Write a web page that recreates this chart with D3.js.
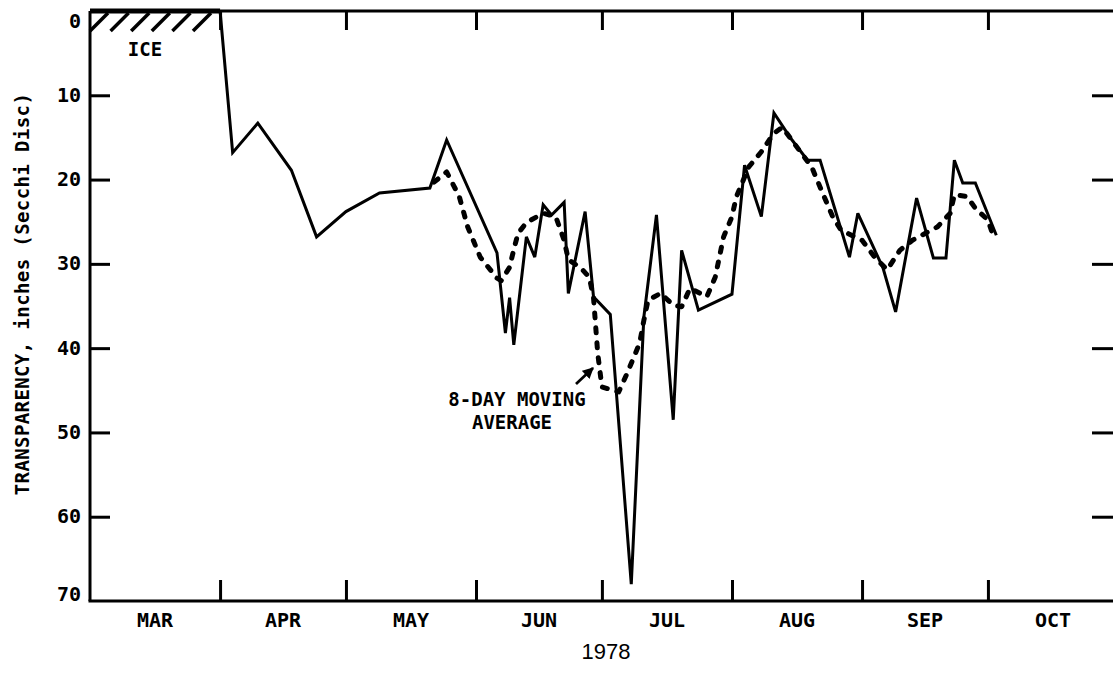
<!DOCTYPE html>
<html>
<head>
<meta charset="utf-8">
<script src="https://cdn.jsdelivr.net/npm/d3@7"></script>
<style>
  body { margin: 0; background: #fff; }
  svg text { fill: #000; }
</style>
</head>
<body>
<svg id="chart" width="1113" height="676"></svg>
<script>
// Lake transparency (Secchi disc depth, inches), 1978 season
const monthLabels = ["MAR", "APR", "MAY", "JUN", "JUL", "AUG", "SEP", "OCT"];
const yTickValues = [0, 10, 20, 30, 40, 50, 60, 70];
const yMarkValues = [10, 20, 30, 40, 50, 60];

const iceStart = "1978-03-01";
const iceEnd = "1978-04-01";

// Individual Secchi readings
const obsDates = [
  "1978-04-01", "1978-04-04", "1978-04-10", "1978-04-18", "1978-04-24",
  "1978-05-01", "1978-05-09", "1978-05-21", "1978-05-25", "1978-06-06",
  "1978-06-08", "1978-06-09", "1978-06-10", "1978-06-13", "1978-06-15",
  "1978-06-17", "1978-06-19", "1978-06-22", "1978-06-23", "1978-06-27",
  "1978-06-29", "1978-07-03", "1978-07-08", "1978-07-11", "1978-07-14",
  "1978-07-18", "1978-07-20", "1978-07-24", "1978-08-01", "1978-08-04",
  "1978-08-08", "1978-08-11", "1978-08-15", "1978-08-19", "1978-08-22",
  "1978-08-29", "1978-08-31", "1978-09-06", "1978-09-09", "1978-09-14",
  "1978-09-18", "1978-09-21", "1978-09-23", "1978-09-25", "1978-09-28",
  "1978-10-03"
];
const obsValues = [
  0, 16.8, 13.3, 18.9, 26.8,
  23.8, 21.6, 21.0, 15.3, 28.7,
  38.2, 34.0, 39.6, 26.8, 29.2,
  23.0, 24.2, 22.7, 33.5, 23.8,
  33.9, 36.0, 68.0, 36.3, 24.2,
  48.5, 28.4, 35.5, 33.6, 18.3,
  24.4, 12.1, 15.1, 17.7, 17.7,
  29.2, 24.0, 30.5, 35.7, 22.2,
  29.3, 29.3, 17.7, 20.4, 20.4,
  26.6
];

// 8-day moving average
const avgDates = [
  "1978-05-22", "1978-05-25", "1978-05-28", "1978-05-30", "1978-06-02",
  "1978-06-06", "1978-06-07", "1978-06-09", "1978-06-10", "1978-06-11",
  "1978-06-13", "1978-06-17", "1978-06-20", "1978-06-22", "1978-06-23",
  "1978-06-26", "1978-06-28", "1978-06-29", "1978-06-30", "1978-07-01",
  "1978-07-05", "1978-07-07", "1978-07-10", "1978-07-11", "1978-07-12",
  "1978-07-15", "1978-07-18", "1978-07-20", "1978-07-22", "1978-07-26",
  "1978-07-28", "1978-07-30", "1978-08-01", "1978-08-02", "1978-08-05",
  "1978-08-08", "1978-08-11", "1978-08-13", "1978-08-17", "1978-08-20",
  "1978-08-22", "1978-08-25", "1978-08-27", "1978-09-01", "1978-09-04",
  "1978-09-07", "1978-09-10", "1978-09-13", "1978-09-19", "1978-09-22",
  "1978-09-23", "1978-09-26", "1978-09-28", "1978-10-01", "1978-10-02"
];
const avgValues = [
  20.3, 19.1, 22.0, 25.6, 29.2,
  31.7, 32.0, 30.4, 28.3, 26.4,
  25.1, 24.0, 24.4, 27.2, 29.5,
  30.5, 31.6, 34.0, 40.6, 44.6,
  45.2, 43.0, 39.4, 36.7, 34.3,
  33.5, 34.9, 35.1, 32.9, 33.9,
  31.6, 26.8, 24.4, 22.1, 18.5,
  16.7, 14.5, 13.8, 16.5, 18.5,
  20.9, 24.4, 26.0, 27.2, 29.2,
  30.7, 28.4, 27.2, 25.6, 24.0,
  21.8, 22.0, 23.4, 24.8, 26.3
];

const parse = d3.utcParse("%Y-%m-%d");
const obs = obsDates.map((d, i) => ({ date: parse(d), value: obsValues[i] }));
const avg = avgDates.map((d, i) => ({ date: parse(d), value: avgValues[i] }));

const svg = d3.select("#chart");
const font = "'DejaVu Sans Mono', 'Liberation Mono', monospace";

const x = d3.scaleUtc()
  .domain([parse("1978-03-01"), parse("1978-11-01")])
  .range([90, 1118]);
const y = d3.scaleLinear().domain([0, 70]).range([11, 601]);

const plotLeft = x.range()[0], plotTop = y.range()[0], plotBottom = y.range()[1];
const boundaries = d3.utcMonth.range(parse("1978-04-01"), parse("1978-10-02"));

// Frame: left, top and bottom rules
const frame = svg.append("g").attr("stroke", "#000").attr("stroke-width", 3).attr("fill", "none");
frame.append("path").attr("d", `M${plotLeft},${plotTop}V${plotBottom}`);
frame.append("path").attr("d", `M${plotLeft},${plotTop}H1113`);
frame.append("path").attr("d", `M${plotLeft - 1.5},${plotBottom}H1113`);

// Month boundary ticks, pointing inward from top and bottom
const axStyle = g => {
  g.select(".domain").remove();
  g.selectAll("line").attr("stroke", "#000").attr("stroke-width", 3);
};
svg.append("g").attr("transform", `translate(0,${plotBottom})`)
  .call(d3.axisBottom(x).tickValues(boundaries).tickSizeInner(-21).tickSizeOuter(0).tickFormat(""))
  .call(axStyle);
svg.append("g").attr("transform", `translate(0,${plotTop})`)
  .call(d3.axisTop(x).tickValues(boundaries).tickSizeInner(-19).tickSizeOuter(0).tickFormat(""))
  .call(axStyle);

// Month names centred on each month
const monthStarts = d3.utcMonth.range(parse("1978-03-01"), parse("1978-11-01"));
svg.append("g").selectAll("text")
  .data(monthLabels)
  .join("text")
  .attr("x", (d, i) => (x(monthStarts[i]) + x(d3.utcMonth.offset(monthStarts[i], 1))) / 2)
  .attr("y", 620)
  .attr("text-anchor", "middle")
  .attr("dominant-baseline", "central")
  .attr("font-family", font)
  .attr("font-weight", "bold")
  .attr("font-size", 20)
  .text(d => d);

// Y axis: labels on the left, inward ticks on both sides
const yLeft = svg.append("g").attr("transform", `translate(${plotLeft},0)`)
  .call(d3.axisLeft(y).tickValues(yTickValues).tickSizeInner(0).tickSizeOuter(0).tickPadding(9));
yLeft.select(".domain").remove();
yLeft.selectAll("text")
  .attr("font-family", font)
  .attr("font-weight", "bold")
  .attr("font-size", 20)
  .attr("dy", d => d === 0 ? "0.82em" : d === 70 ? "-0.05em" : "0.3em");

svg.append("g").attr("transform", `translate(${plotLeft},0)`)
  .call(d3.axisLeft(y).tickValues(yMarkValues).tickSizeInner(-20).tickSizeOuter(0).tickFormat(""))
  .call(axStyle);
svg.append("g").attr("transform", `translate(${x.range()[1]},0)`)
  .call(d3.axisRight(y).tickValues(yMarkValues).tickSizeInner(-26).tickSizeOuter(0).tickFormat(""))
  .call(axStyle);

// Axis titles
svg.append("text")
  .attr("transform", `translate(22,${(plotTop + plotBottom) / 2 - 12}) rotate(-90)`)
  .attr("text-anchor", "middle")
  .attr("dominant-baseline", "central")
  .attr("font-family", font)
  .attr("font-weight", "bold")
  .attr("font-size", 19)
  .attr("letter-spacing", 0.4)
  .text("TRANSPARENCY, inches (Secchi Disc)");

svg.append("text")
  .attr("x", 606)
  .attr("y", 659)
  .attr("text-anchor", "middle")
  .attr("font-family", "'Liberation Sans Narrow', 'Liberation Sans', Arial, sans-serif")
  .attr("font-size", 22)
  .text("1978");

// Ice cover: heavy bar with hatching beneath
const ix0 = x(parse(iceStart)), ix1 = x(parse(iceEnd));
svg.append("path")
  .attr("d", `M${ix0},${plotTop}H${ix1}`)
  .attr("stroke", "#000").attr("stroke-width", 5);
svg.append("g").selectAll("line")
  .data(d3.range(ix0, ix1 - 18, 20.6))
  .join("line")
  .attr("x1", d => d).attr("y1", plotTop + 20)
  .attr("x2", d => d + 18).attr("y2", plotTop + 2)
  .attr("stroke", "#000").attr("stroke-width", 3.5);
svg.append("text")
  .attr("x", 145).attr("y", 49)
  .attr("text-anchor", "middle")
  .attr("dominant-baseline", "central")
  .attr("font-family", font)
  .attr("font-weight", "bold")
  .attr("font-size", 19)
  .text("ICE");

const line = d3.line().x(d => x(d.date)).y(d => y(d.value)).curve(d3.curveLinear);

// Moving average (dashed)
svg.append("path")
  .datum(avg)
  .attr("d", line)
  .attr("fill", "none")
  .attr("stroke", "#000")
  .attr("stroke-width", 5)
  .attr("stroke-linecap", "round")
  .attr("stroke-linejoin", "round")
  .attr("stroke-dasharray", "5,10");

// Observed readings (solid)
svg.append("path")
  .datum(obs)
  .attr("d", line)
  .attr("fill", "none")
  .attr("stroke", "#000")
  .attr("stroke-width", 3)
  .attr("stroke-linejoin", "miter")
  .attr("stroke-miterlimit", 3);

// Annotation for the dashed curve
const note = svg.append("g")
  .attr("font-family", font)
  .attr("font-weight", "bold")
  .attr("font-size", 19)
  .attr("text-anchor", "middle");
note.append("text").attr("x", 517).attr("y", 399).attr("dominant-baseline", "central").text("8-DAY MOVING");
note.append("text").attr("x", 512).attr("y", 422).attr("dominant-baseline", "central").text("AVERAGE");

svg.append("defs").append("marker")
  .attr("id", "head")
  .attr("viewBox", "0 0 10 10")
  .attr("refX", 9).attr("refY", 5)
  .attr("markerWidth", 4).attr("markerHeight", 4)
  .attr("orient", "auto")
  .append("path").attr("d", "M0,0L10,5L0,10Z").attr("fill", "#000");
svg.append("line")
  .attr("x1", 576).attr("y1", 384)
  .attr("x2", 593).attr("y2", 368)
  .attr("stroke", "#000").attr("stroke-width", 2.8)
  .attr("marker-end", "url(#head)");
</script>
</body>
</html>
